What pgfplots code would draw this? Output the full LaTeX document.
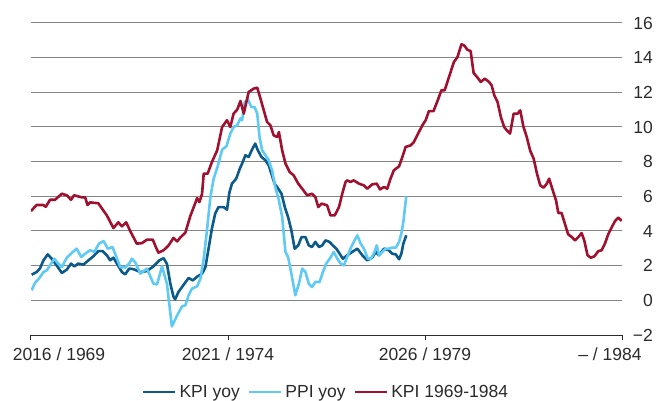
\documentclass[border=0pt]{standalone}
\usepackage{fontspec}
\setmainfont{Liberation Sans}
\usepackage{pgfplots}
\pgfplotsset{compat=1.18}
\definecolor{kpiblue}{HTML}{0B5A8A}
\definecolor{ppiblue}{HTML}{5FCAF3}
\definecolor{kpired}{HTML}{A0102F}
\definecolor{txt}{HTML}{2B2B2B}
\definecolor{gridc}{HTML}{858585}
\begin{document}
\begin{tikzpicture}
\useasboundingbox (0,0) rectangle (667bp,401bp);
\begin{axis}[
  at={(31bp,66bp)}, anchor=south west,
  scale only axis, width=591bp, height=312bp,
  xmin=0, xmax=180, ymin=-2, ymax=16,
  axis x line*=bottom, axis y line*=right,
  y axis line style={draw=none},
  x axis line style={draw=txt, line width=1bp, -},
  xtick={0,60,120,180},
  xticklabels={\hspace*{56bp}2016 / 1969, 2021 / 1974, 2026 / 1979, \hspace*{-24bp}– / 1984},
  xtick align=outside,
  x tick style={draw=txt, line width=1bp},
  major tick length=5bp,
  ytick={-2,0,2,4,6,8,10,12,14,16},
  yticklabels={−2,0,2,4,6,8,10,12,14,16},
  y tick style={draw=none},
  ymajorgrids,
  major grid style={draw=gridc, line width=1bp},
  /pgf/number format/assume math mode=true,
  tick label style={font=\fontsize{17.5bp}{20bp}\selectfont, text=txt},
  yticklabel style={anchor=east, inner sep=0pt, xshift=31bp},
  xticklabel style={anchor=north, inner sep=0pt, yshift=-8bp},
  legend style={at={(0.5,-0.183)}, anchor=center, draw=none, fill=none,
    legend columns=3, font=\fontsize{17.5bp}{20bp}\selectfont, text=txt,
    /tikz/every even column/.append style={column sep=5bp},
    nodes={inner sep=3bp}},
  legend image code/.code={\draw[#1] (0bp,0bp) -- (32bp,0bp);},
  every axis plot/.append style={line width=2.6bp, line join=round},
]
\addplot[kpiblue] coordinates {
(0.2,1.48)(1.7,1.63)(2.7,1.83)(3.8,2.31)(5.1,2.65)(6.3,2.4)(7.8,2.02)(9.4,1.58)(10.9,1.77)(12.2,2.12)(13.2,1.96)(14.4,2.12)(16.0,2.06)(17.5,2.31)(19.0,2.54)(20.5,2.84)(21.8,2.84)(23.1,2.6)(24.1,2.31)(25.1,2.46)(26.5,2.02)(27.7,1.63)(28.7,1.5)(29.9,1.83)(31.2,1.8)(33.3,1.63)(35.3,1.69)(37.3,1.96)(39.1,2.31)(40.4,2.43)(41.4,2.1)(42.4,1.0)(43.4,0.2)(43.9,0.06)(44.9,0.48)(46.5,0.9)(48.0,1.29)(49.3,1.15)(50.7,1.38)(52.1,1.54)(53.1,1.9)(54.1,3.0)(55.1,4.15)(56.1,5.0)(57.1,5.38)(58.7,5.38)(59.7,5.23)(60.4,6.2)(61.2,6.73)(62.5,7.02)(63.6,7.6)(64.3,7.89)(65.3,8.37)(66.3,8.27)(67.3,8.69)(68.3,9.04)(69.1,8.65)(70.2,8.27)(71.4,8.08)(72.4,7.79)(73.2,7.31)(74.2,6.73)(75.3,6.44)(76.3,6.15)(77.3,5.38)(78.3,4.81)(79.3,4.04)(80.3,2.98)(81.4,3.17)(82.4,3.65)(83.6,3.65)(84.6,3.17)(85.6,3.08)(86.6,3.37)(87.7,3.08)(88.7,3.17)(89.7,3.46)(90.9,3.37)(91.9,3.17)(93.0,2.98)(94.0,2.69)(95.0,2.4)(96.3,2.6)(97.8,2.79)(99.4,2.98)(100.9,2.6)(102.4,2.31)(103.9,2.46)(105.0,2.79)(106.0,2.6)(107.5,2.98)(109.0,2.89)(110.0,2.69)(111.1,2.65)(112.1,2.37)(112.8,2.69)(113.4,3.27)(114.3,3.75)
};
\addlegendentry{KPI yoy}
\addplot[ppiblue] coordinates {
(0.2,0.58)(1.2,1.0)(2.4,1.25)(3.8,1.63)(4.8,1.73)(5.8,2.02)(7.1,2.4)(8.3,2.12)(9.4,1.92)(10.9,2.46)(12.4,2.73)(13.9,2.98)(15.3,2.5)(16.5,2.69)(18.0,2.89)(19.3,2.79)(20.7,3.27)(22.1,3.42)(23.4,2.98)(24.8,3.08)(25.8,2.6)(27.2,1.92)(28.7,1.89)(29.9,2.12)(30.7,2.4)(31.7,2.21)(33.3,1.54)(35.3,1.83)(37.3,0.96)(38.4,0.92)(39.9,1.96)(41.4,0.96)(42.9,-1.5)(44.5,-0.87)(46.0,-0.35)(47.0,-0.29)(48.0,0.29)(49.0,0.67)(50.6,0.81)(51.6,1.25)(52.6,2.4)(53.6,4.04)(54.6,5.9)(55.6,7.0)(56.8,7.69)(58.2,8.69)(59.5,8.88)(60.7,9.62)(61.7,10.0)(62.8,10.1)(63.8,10.5)(64.3,10.39)(65.1,11.44)(66.1,11.58)(67.1,11.15)(68.1,11.15)(68.9,10.77)(69.6,9.42)(70.4,8.65)(71.4,8.37)(72.4,8.08)(73.4,7.5)(74.4,6.54)(75.5,5.77)(76.5,4.81)(77.5,2.79)(78.3,2.5)(79.3,1.54)(80.5,0.29)(81.6,0.96)(82.6,1.83)(83.6,1.63)(84.6,0.96)(85.6,0.77)(86.6,1.06)(87.9,1.06)(88.9,1.63)(89.9,2.12)(91.2,2.46)(92.2,2.79)(93.3,2.4)(94.3,2.12)(95.3,2.02)(96.3,2.5)(97.3,2.98)(98.3,3.37)(99.4,3.75)(100.4,3.27)(101.4,2.98)(102.6,2.4)(103.6,2.4)(104.6,2.79)(105.3,3.17)(106.0,2.6)(107.0,2.79)(108.0,2.98)(109.0,2.98)(110.0,3.04)(111.1,3.04)(112.1,3.37)(112.8,3.85)(113.4,4.52)(113.8,5.19)(114.3,6.0)
};
\addlegendentry{PPI yoy}
\addplot[kpired] coordinates {
(0,5.15)(1.7,5.5)(3.7,5.5)(4.5,5.4)(5.8,5.8)(7.3,5.8)(9.4,6.15)(10.9,6.06)(12.2,5.8)(13.1,6.06)(15.5,5.94)(16.5,5.94)(17.2,5.5)(18.0,5.65)(20.5,5.6)(21.6,5.3)(23.1,4.9)(25.1,4.17)(26.6,4.5)(27.7,4.27)(29.0,4.5)(30.2,4.0)(31.7,3.46)(32.2,3.27)(33.8,3.3)(35.3,3.5)(37.1,3.5)(37.8,3.17)(38.8,2.75)(40.4,2.89)(41.9,3.17)(43.4,3.6)(44.5,3.4)(45.5,3.63)(47.0,3.9)(48.5,4.85)(50.6,5.9)(51.3,5.67)(52.1,6.15)(52.6,7.31)(53.8,7.31)(55.1,7.98)(56.7,8.65)(58.2,10.0)(59.7,10.39)(60.7,10.0)(61.7,10.77)(62.8,11.0)(63.8,11.5)(64.8,10.77)(66.3,12.02)(67.8,12.21)(68.9,12.27)(69.9,11.63)(70.9,10.96)(71.9,10.29)(72.9,10.1)(73.9,9.52)(75.0,9.42)(75.5,9.71)(76.5,8.65)(77.5,7.89)(78.8,7.4)(80.0,7.21)(81.4,6.73)(82.6,6.44)(84.1,6.06)(85.6,6.15)(86.6,5.96)(87.5,5.38)(88.5,5.58)(90.2,5.48)(91.2,4.9)(92.5,4.9)(93.8,5.38)(94.8,6.15)(95.8,6.83)(96.3,6.92)(97.3,6.83)(98.3,6.92)(99.9,6.73)(101.4,6.63)(102.4,6.44)(103.9,6.69)(105.3,6.73)(106.3,6.4)(107.5,6.54)(108.5,6.44)(109.5,7.02)(110.5,7.5)(112.1,7.73)(113.1,8.27)(114.1,8.85)(115.6,8.94)(116.6,9.13)(117.9,9.62)(119.2,10.1)(120.2,10.39)(121.2,10.92)(122.6,10.92)(123.8,11.5)(125.0,12.12)(126.0,12.12)(127.3,12.88)(128.8,13.75)(129.9,14.04)(131.1,14.77)(131.9,14.71)(132.9,14.46)(133.9,14.38)(134.8,13.12)(136.0,12.85)(137.0,12.6)(138.2,12.79)(139.5,12.6)(140.3,12.4)(141.1,11.83)(142.1,11.44)(143.1,10.58)(144.1,10.0)(144.9,9.81)(145.9,9.62)(147.0,10.77)(148.2,10.77)(149.0,10.96)(150.0,10.0)(151.0,9.42)(152.0,8.65)(153.1,8.17)(154.1,7.31)(155.1,6.63)(156.1,6.5)(157.1,6.73)(157.8,7.02)(158.9,6.35)(159.9,5.77)(160.6,5.04)(161.6,5.04)(162.6,4.42)(163.6,3.81)(164.7,3.65)(165.7,3.46)(166.7,3.65)(167.7,3.88)(168.5,3.46)(169.5,2.6)(170.5,2.46)(171.6,2.54)(172.8,2.84)(173.8,2.89)(174.8,3.27)(175.8,3.81)(176.9,4.23)(177.9,4.58)(178.9,4.77)(179.9,4.58)
};
\addlegendentry{KPI 1969-1984}
\end{axis}
\end{tikzpicture}
\end{document}
